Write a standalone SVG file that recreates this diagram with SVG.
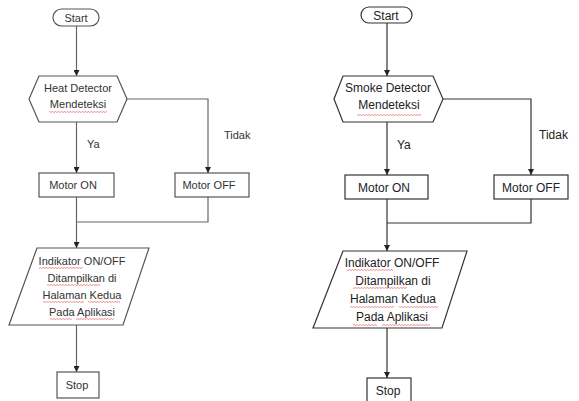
<svg xmlns="http://www.w3.org/2000/svg" width="579" height="401" viewBox="0 0 579 401">
  <defs>
    <style>
      .shape { fill: #ffffff; stroke: #555555; stroke-width: 1.2; }
      .shape-r { fill: #ffffff; stroke: #333333; stroke-width: 1.2; }
      .wire { fill: none; stroke: #666666; stroke-width: 1.2; }
      .wire-r { fill: none; stroke: #333333; stroke-width: 1.2; }
      .lbl { font-family: "Liberation Sans", Arial, sans-serif; font-size: 11px; fill: #333333; text-anchor: middle; }
      .lbl-r { font-family: "Liberation Sans", Arial, sans-serif; font-size: 12px; fill: #222222; text-anchor: middle; }
      .side { text-anchor: start; }
      .spell { fill: url(#squiggle); }
    </style>
    <marker id="arrow" viewBox="0 0 8 8" refX="8" refY="4" markerWidth="6" markerHeight="6" markerUnits="userSpaceOnUse" orient="auto">
      <path d="M0,0 L8,4 L0,8 Z" fill="#222222"/>
    </marker>
    <pattern id="squiggle" width="3" height="2" patternUnits="userSpaceOnUse">
      <path d="M0,0.5 L1.5,1.5 L3,0.5" fill="none" stroke="#e04040" stroke-width="0.6"/>
    </pattern>
  </defs>

  <!-- Connectors: heat detector flow -->
  <g id="connectors-left">
    <path class="wire" d="M76.5,26 V76" marker-end="url(#arrow)"/>
    <path class="wire" d="M76.5,122 V173" marker-end="url(#arrow)"/>
    <path class="wire" d="M127,99 H208 V173" marker-end="url(#arrow)"/>
    <path class="wire" d="M76.5,197 V248" marker-end="url(#arrow)"/>
    <path class="wire" d="M208,197 V222 H76.5"/>
    <path class="wire" d="M76.5,325 V372" marker-end="url(#arrow)"/>
  </g>

  <!-- Connectors: smoke detector flow -->
  <g id="connectors-right">
    <path class="wire-r" d="M387,23 V76" marker-end="url(#arrow)"/>
    <path class="wire-r" d="M387,122 V175" marker-end="url(#arrow)"/>
    <path class="wire-r" d="M443,99 H531 V175" marker-end="url(#arrow)"/>
    <path class="wire-r" d="M387,199 V251" marker-end="url(#arrow)"/>
    <path class="wire-r" d="M531,199 V223 H387"/>
    <path class="wire-r" d="M387,328 V378" marker-end="url(#arrow)"/>
  </g>

  <!-- Heat detector flow -->
  <g id="left-start">
    <rect class="shape" x="53" y="9" width="46" height="17" rx="8.5"/>
    <text class="lbl" x="76" y="21.5">Start</text>
  </g>
  <g id="left-decision">
    <polygon class="shape" points="29,99 39,76 117,76 127,99 117,122 39,122"/>
    <text class="lbl" x="78" y="92">Heat Detector</text>
    <text class="lbl" x="78" y="108">Mendeteksi</text>
    <rect class="spell" x="49" y="111" width="58" height="2"/>
  </g>
  <text class="lbl side" x="87" y="148">Ya</text>
  <text class="lbl side" x="224" y="139">Tidak</text>
  <g id="left-motor-on">
    <rect class="shape" x="39" y="173" width="75" height="24"/>
    <text class="lbl" x="73" y="189">Motor ON</text>
  </g>
  <g id="left-motor-off">
    <rect class="shape" x="175" y="173" width="74" height="24"/>
    <text class="lbl" x="209" y="189">Motor OFF</text>
  </g>
  <g id="left-output">
    <polygon class="shape" points="37,248 149,248 123,325 9,325"/>
    <text class="lbl" x="82" y="265">Indikator ON/OFF</text>
    <text class="lbl" x="82" y="282">Ditampilkan di</text>
    <text class="lbl" x="82" y="299">Halaman Kedua</text>
    <text class="lbl" x="82" y="316">Pada Aplikasi</text>
    <rect class="spell" x="39" y="267" width="44" height="2"/>
    <rect class="spell" x="47" y="284" width="53" height="2"/>
    <rect class="spell" x="43" y="301" width="41" height="2"/>
    <rect class="spell" x="88" y="301" width="32" height="2"/>
    <rect class="spell" x="50" y="318" width="22" height="2"/>
    <rect class="spell" x="76" y="318" width="38" height="2"/>
  </g>
  <g id="left-stop">
    <rect class="shape" x="57" y="372" width="42" height="26"/>
    <text class="lbl" x="77" y="389">Stop</text>
  </g>

  <!-- Smoke detector flow -->
  <g id="right-start">
    <rect class="shape-r" x="361" y="7" width="51" height="16" rx="8"/>
    <text class="lbl-r" x="386" y="19.5">Start</text>
  </g>
  <g id="right-decision">
    <polygon class="shape-r" points="334,99 343,76 433,76 443,99 433,122 343,122"/>
    <text class="lbl-r" x="388" y="92">Smoke Detector</text>
    <text class="lbl-r" x="389" y="109">Mendeteksi</text>
    <rect class="spell" x="357" y="114" width="64" height="2"/>
  </g>
  <text class="lbl-r side" x="397" y="149">Ya</text>
  <text class="lbl-r side" x="539" y="139">Tidak</text>
  <g id="right-motor-on">
    <rect class="shape-r" x="345" y="175" width="83" height="24"/>
    <text class="lbl-r" x="384" y="192">Motor ON</text>
  </g>
  <g id="right-motor-off">
    <rect class="shape-r" x="494" y="175" width="74" height="24"/>
    <text class="lbl-r" x="531" y="192">Motor OFF</text>
  </g>
  <g id="right-output">
    <polygon class="shape-r" points="343,251 467,251 442,328 313,328"/>
    <text class="lbl-r" x="392" y="267">Indikator ON/OFF</text>
    <text class="lbl-r" x="393" y="285">Ditampilkan di</text>
    <text class="lbl-r" x="393" y="303">Halaman Kedua</text>
    <text class="lbl-r" x="392" y="321">Pada Aplikasi</text>
    <rect class="spell" x="347" y="269" width="46" height="2"/>
    <rect class="spell" x="353" y="287" width="54" height="2"/>
    <rect class="spell" x="350" y="306" width="44" height="2"/>
    <rect class="spell" x="399" y="306" width="39" height="2"/>
    <rect class="spell" x="353" y="324" width="24" height="2"/>
    <rect class="spell" x="382" y="324" width="48" height="2"/>
  </g>
  <g id="right-stop">
    <rect class="shape-r" x="367" y="378" width="44" height="26"/>
    <text class="lbl-r" x="388" y="395">Stop</text>
  </g>
</svg>
